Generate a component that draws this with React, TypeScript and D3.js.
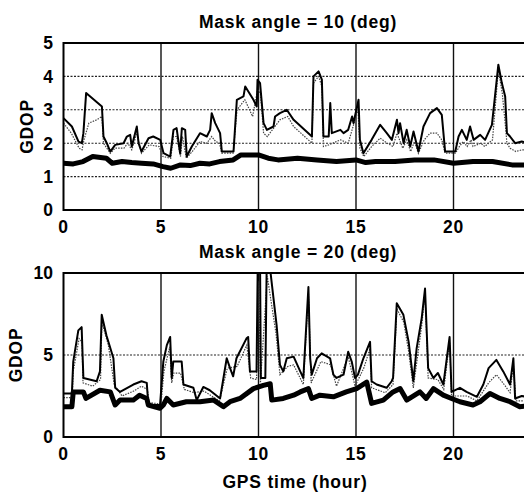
import React from "react";
import * as d3 from "d3";

// GDOP over one day, mask angle 10 deg: [hour, GDOP]
const mask10Upper: [number, number][] = [
  [0, 2.75], [0.43, 2.5], [0.77, 2.05], [0.94, 2.0], [1.02, 2.3], [1.16, 3.5], [1.97, 3.1], [2.05, 2.2],
  [2.22, 2.0], [2.4, 1.75], [2.65, 1.95], [3.08, 2.0], [3.25, 2.2], [3.42, 2.25], [3.5, 1.9], [3.76, 2.5],
  [3.85, 2.0], [4.0, 1.75], [4.36, 2.15], [4.6, 2.2], [4.96, 2.1], [5.13, 1.7], [5.47, 1.6], [5.64, 2.4],
  [5.8, 2.45], [5.98, 1.7], [6.07, 2.45], [6.24, 2.4], [6.32, 1.6], [6.58, 1.9], [7.0, 2.3], [7.35, 2.2],
  [7.52, 2.4], [7.6, 2.9], [7.78, 2.6], [8.03, 2.3], [8.12, 1.75], [8.72, 1.75], [8.89, 3.3], [9.23, 3.4],
  [9.32, 3.7], [9.74, 3.3], [9.91, 3.1], [9.95, 3.9], [10.08, 3.8], [10.26, 2.6], [10.43, 2.4], [10.77, 2.5],
  [10.85, 2.8], [11.1, 2.9], [11.45, 3.0], [11.8, 2.7], [12.74, 2.2], [12.82, 4.0], [13.08, 4.15], [13.25, 3.9],
  [13.33, 2.2], [13.6, 2.2], [13.68, 3.2], [13.76, 2.3], [14.2, 2.4], [14.36, 2.3], [14.6, 2.4], [14.8, 2.8],
  [14.87, 2.6], [15.13, 3.3], [15.2, 2.1], [15.38, 1.7], [15.8, 2.1], [16.24, 2.55], [16.58, 2.3], [16.84, 2.1],
  [17.1, 2.7], [17.18, 2.3], [17.26, 2.6], [17.44, 2.0], [17.6, 2.4], [17.78, 1.9], [17.95, 2.35], [18.2, 1.75],
  [18.46, 2.5], [18.8, 2.9], [19.15, 3.05], [19.4, 2.85], [19.57, 1.75], [20.09, 1.75], [20.26, 2.2], [20.43, 2.4],
  [20.68, 2.1], [20.85, 2.5], [21.03, 2.1], [21.37, 2.25], [21.62, 2.1], [21.97, 2.55], [22.3, 4.35], [22.48, 3.8],
  [22.65, 3.4], [22.74, 2.3], [22.9, 2.2], [23.16, 2.0], [23.5, 2.05], [24, 2.0],
];

const mask10Middle: [number, number][] = [
  [0, 2.6], [0.4, 2.3], [0.8, 1.85], [0.95, 1.8], [1.05, 2.1], [1.3, 2.6], [1.7, 2.7], [1.97, 2.8],
  [2.05, 2.0], [2.4, 1.7], [2.65, 1.85], [3.1, 1.85], [3.3, 2.0], [3.5, 1.8], [3.76, 2.3], [4.0, 1.7],
  [4.4, 1.95], [4.9, 1.9], [5.1, 1.6], [5.5, 1.55], [5.64, 2.2], [5.8, 2.2], [6.0, 1.6], [6.1, 2.2],
  [6.3, 1.55], [6.6, 1.75], [7.0, 2.05], [7.35, 2.0], [7.6, 2.2], [7.8, 2.05], [8.0, 2.0], [8.12, 1.7],
  [8.7, 1.7], [8.9, 3.0], [9.3, 3.3], [9.7, 2.8], [9.95, 3.6], [10.1, 3.5], [10.26, 2.3], [10.45, 2.2],
  [11.1, 2.7], [11.5, 2.8], [11.8, 2.5], [12.74, 2.0], [12.82, 3.8], [13.08, 4.0], [13.25, 3.7], [13.33, 1.9],
  [13.6, 1.95], [14.2, 2.1], [14.6, 2.0], [14.8, 2.4], [15.1, 3.0], [15.2, 1.85], [15.4, 1.6], [15.8, 1.9],
  [16.24, 2.15], [16.6, 2.0], [16.9, 1.9], [17.1, 2.3], [17.4, 1.85], [17.6, 2.1], [17.8, 1.75], [18.0, 2.05],
  [18.2, 1.7], [18.5, 2.1], [18.8, 2.3], [19.15, 2.3], [19.4, 2.1], [19.57, 1.7], [20.1, 1.7], [20.3, 1.9],
  [20.5, 2.05], [20.7, 1.9], [20.9, 2.1], [21.0, 1.9], [21.4, 2.0], [21.6, 1.9], [22.0, 2.1], [22.3, 4.2],
  [22.5, 3.5], [22.65, 2.6], [22.74, 2.0], [22.9, 1.85], [23.2, 1.75], [23.5, 1.8], [24, 1.8],
];

const mask10Lower: [number, number][] = [
  [0, 1.4], [0.5, 1.38], [1.0, 1.45], [1.5, 1.6], [2.2, 1.55], [2.5, 1.4], [3.0, 1.45], [3.5, 1.42],
  [4.0, 1.4], [4.6, 1.38], [5.1, 1.3], [5.5, 1.25], [6.0, 1.35], [6.5, 1.33], [7.0, 1.4], [7.5, 1.38],
  [8.0, 1.45], [8.7, 1.5], [9.1, 1.65], [10.0, 1.65], [10.5, 1.55], [11.0, 1.5], [12.0, 1.55], [13.0, 1.5],
  [14.0, 1.45], [15.0, 1.5], [15.5, 1.42], [16.0, 1.45], [17.0, 1.45], [18.0, 1.5], [19.0, 1.5], [20.0, 1.4],
  [21.0, 1.45], [22.0, 1.45], [23.0, 1.35], [24, 1.35],
];

// GDOP over one day, mask angle 20 deg
const mask20Upper: [number, number][] = [
  [0, 2.66], [0.43, 2.66], [0.5, 4.6], [0.76, 6.5], [0.93, 6.7], [1.02, 3.6], [1.7, 3.4], [1.87, 4.0],
  [1.96, 7.45], [2.2, 6.2], [2.56, 4.8], [2.65, 3.0], [2.9, 2.75], [3.58, 3.2], [4.0, 3.4], [4.27, 3.3],
  [4.35, 1.95], [4.95, 1.95], [5.12, 4.6], [5.3, 5.6], [5.47, 6.1], [5.55, 3.6], [5.63, 4.6], [6.06, 4.6],
  [6.15, 3.2], [6.66, 3.0], [6.83, 2.25], [7.17, 3.05], [7.5, 2.85], [8.03, 2.35], [8.37, 4.8], [8.54, 4.2],
  [8.7, 3.7], [8.87, 4.8], [9.38, 6.0], [9.47, 6.1], [9.56, 4.0], [9.9, 4.0], [9.96, 10.5], [10.08, 10.5],
  [10.12, 3.6], [10.35, 3.6], [10.42, 10.5], [10.6, 10.2], [10.93, 6.8], [11.1, 4.4], [11.27, 4.0], [11.45, 4.8],
  [11.8, 4.9], [12.14, 4.0], [12.3, 3.6], [12.56, 9.15], [12.65, 4.8], [12.73, 3.8], [13.0, 4.8], [13.24, 5.1],
  [13.67, 4.8], [13.84, 3.8], [14.0, 3.6], [14.36, 3.8], [14.6, 5.2], [14.78, 4.6], [14.95, 3.6], [15.1, 3.8],
  [15.38, 4.8], [15.72, 5.8], [15.8, 3.4], [16.06, 3.2], [16.57, 3.0], [16.83, 3.4], [16.9, 3.6], [17.09, 8.15],
  [17.43, 7.45], [17.7, 5.8], [17.94, 3.4], [18.11, 5.4], [18.37, 7.25], [18.54, 9.05], [18.7, 4.2], [18.97, 3.6],
  [19.2, 3.9], [19.48, 3.2], [19.8, 6.1], [19.9, 2.75], [20.33, 3.0], [20.67, 2.75], [21.2, 2.45], [21.53, 3.2],
  [21.8, 4.2], [22.2, 4.7], [22.55, 4.0], [22.9, 3.2], [23.07, 4.8], [23.16, 2.35], [23.5, 2.5], [24, 2.4],
];

const mask20Middle: [number, number][] = [
  [0, 2.4], [0.45, 2.4], [0.5, 4.0], [0.8, 6.0], [0.95, 5.8], [1.0, 3.3], [1.5, 3.1], [1.9, 3.5],
  [1.97, 7.0], [2.3, 5.6], [2.6, 3.2], [3.0, 2.5], [3.6, 2.8], [4.0, 3.1], [4.3, 2.9], [4.4, 2.1],
  [5.0, 2.0], [5.15, 4.0], [5.45, 5.5], [5.55, 3.3], [5.65, 3.9], [6.0, 3.9], [6.2, 2.9], [6.7, 2.7],
  [7.2, 2.8], [8.0, 2.2], [8.4, 4.2], [8.9, 4.3], [9.4, 5.6], [9.6, 3.6], [9.9, 3.5], [10.0, 9.5],
  [10.1, 3.3], [10.45, 9.8], [10.9, 6.3], [11.1, 3.8], [11.5, 4.3], [11.8, 4.4], [12.3, 3.2], [12.56, 8.8],
  [12.7, 3.3], [13.2, 4.6], [13.7, 4.4], [14.0, 3.1], [14.6, 4.9], [14.95, 3.1], [15.4, 4.2], [15.72, 5.4],
  [15.8, 3.0], [16.5, 2.7], [16.9, 3.2], [17.1, 7.8], [17.45, 7.0], [17.7, 5.2], [17.94, 3.0], [18.37, 6.8],
  [18.54, 8.8], [18.7, 3.6], [19.2, 3.5], [19.5, 2.9], [19.8, 5.8], [19.9, 2.5], [20.7, 2.5], [21.2, 2.2],
  [21.8, 3.3], [22.2, 3.8], [22.6, 3.2], [22.9, 2.7], [23.07, 4.4], [23.2, 2.2], [24, 2.2],
];

const mask20Lower: [number, number][] = [
  [0, 1.85], [0.43, 1.85], [0.5, 2.75], [1.02, 2.75], [1.15, 2.35], [1.87, 2.85], [2.4, 2.75], [2.65, 1.95],
  [2.9, 2.25], [3.58, 2.25], [3.9, 2.55], [4.27, 2.35], [4.35, 1.95], [4.95, 1.75], [5.12, 1.95], [5.3, 2.35],
  [5.63, 1.95], [6.3, 2.15], [7.0, 2.15], [7.7, 2.25], [8.2, 1.85], [8.54, 2.15], [9.05, 2.35], [9.74, 2.95],
  [10.25, 3.15], [10.6, 3.25], [10.68, 2.25], [11.27, 2.35], [11.8, 2.55], [12.14, 2.75], [12.56, 2.95], [12.73, 2.35],
  [13.15, 2.55], [13.84, 2.45], [14.5, 2.75], [15.03, 2.95], [15.55, 3.35], [15.8, 2.05], [16.4, 2.25], [16.9, 2.75],
  [17.26, 2.95], [17.6, 2.25], [18.28, 2.75], [18.6, 2.35], [18.97, 2.95], [19.48, 2.55], [19.9, 2.35], [20.33, 2.15],
  [21.0, 1.95], [21.36, 2.15], [21.87, 2.65], [22.38, 2.35], [22.9, 2.15], [23.4, 1.85], [24, 1.9],
];

const hourTicks = [0, 5, 10, 15, 20];
const mask10Ticks = [0, 1, 2, 3, 4, 5];
const mask20Ticks = [0, 5, 10];

const FONT = "'Liberation Sans', Arial, sans-serif";
const FONT_SIZE = 17.5;
const WIDTH = 524;
const HEIGHT = 492;

const x = d3.scaleLinear().domain([0, 24]).range([63.5, 531.5]);

type PanelProps = {
  id: string;
  title: string;
  titleY: number;
  y: d3.ScaleLinear<number, number>;
  yTicks: number[];
  dottedAt: number[];
  upper: [number, number][];
  middle: [number, number][];
  lower: [number, number][];
  yLabelX: number;
};

function Panel({ id, title, titleY, y, yTicks, dottedAt, upper, middle, lower, yLabelX }: PanelProps) {
  const [y0, y1] = y.range();
  const top = Math.min(y0, y1);
  const bottom = Math.max(y0, y1);
  const left = x(0);
  const right = x(24);
  const line = d3
    .line<[number, number]>()
    .x((d) => x(d[0]))
    .y((d) => y(d[1]));
  return (
    <g>
      <defs>
        <clipPath id={id}>
          <rect x={left} y={top} width={right - left} height={bottom - top} />
        </clipPath>
      </defs>
      <text x={298} y={titleY} textAnchor="middle" fontFamily={FONT} fontWeight="bold" fontSize={FONT_SIZE} letterSpacing={0.8}>
        {title}
      </text>
      {dottedAt.map((v) => (
        <line key={"h" + v} x1={left} x2={right} y1={y(v)} y2={y(v)} stroke="#222" strokeWidth={1.1} strokeDasharray="2,1.5" />
      ))}
      {hourTicks.slice(1).map((h) => (
        <line key={"v" + h} x1={x(h)} x2={x(h)} y1={top} y2={bottom} stroke="#111" strokeWidth={1.4} />
      ))}
      <g clipPath={`url(#${id})`}>
        <path d={line(middle) ?? ""} fill="none" stroke="#444" strokeWidth={1.2} strokeDasharray="1.5,1.2" />
        <path d={line(upper) ?? ""} fill="none" stroke="#000" strokeWidth={2} strokeLinejoin="round" />
        <path d={line(lower) ?? ""} fill="none" stroke="#000" strokeWidth={5} strokeLinejoin="round" />
      </g>
      <rect x={left} y={top} width={right - left} height={bottom - top} fill="none" stroke="#000" strokeWidth={2} />
      {yTicks.map((v) => (
        <text key={"yt" + v} x={53} y={y(v)} dy="0.36em" textAnchor="end" fontFamily={FONT} fontWeight="bold" fontSize={FONT_SIZE}>
          {v}
        </text>
      ))}
      {hourTicks.map((h) => (
        <text key={"xt" + h} x={x(h)} y={bottom + 23} textAnchor="middle" fontFamily={FONT} fontWeight="bold" fontSize={FONT_SIZE} letterSpacing={0.8}>
          {h}
        </text>
      ))}
      <text
        transform={`translate(${yLabelX},${(top + bottom) / 2}) rotate(-90)`}
        textAnchor="middle"
        fontFamily={FONT}
        fontWeight="bold"
        fontSize={FONT_SIZE}
        letterSpacing={0.8}
      >
        GDOP
      </text>
    </g>
  );
}

export default function App() {
  const yTop = d3.scaleLinear().domain([0, 5]).range([210, 43]);
  const yBottom = d3.scaleLinear().domain([0, 10]).range([437, 273]);
  return (
    <svg width={WIDTH} height={HEIGHT} style={{ position: "absolute", left: 0, top: 0, background: "#fff" }}>
      <rect width={WIDTH} height={HEIGHT} fill="#fff" />
      <Panel
        id="clip10"
        title="Mask angle = 10 (deg)"
        titleY={28}
        y={yTop}
        yTicks={mask10Ticks}
        dottedAt={[1, 2, 3, 4]}
        upper={mask10Upper}
        middle={mask10Middle}
        lower={mask10Lower}
        yLabelX={33}
      />
      <Panel
        id="clip20"
        title="Mask angle = 20 (deg)"
        titleY={258}
        y={yBottom}
        yTicks={mask20Ticks}
        dottedAt={[5]}
        upper={mask20Upper}
        middle={mask20Middle}
        lower={mask20Lower}
        yLabelX={22}
      />
      <text x={295} y={488} textAnchor="middle" fontFamily={FONT} fontWeight="bold" fontSize={FONT_SIZE} letterSpacing={0.8}>
        GPS time (hour)
      </text>
    </svg>
  );
}
